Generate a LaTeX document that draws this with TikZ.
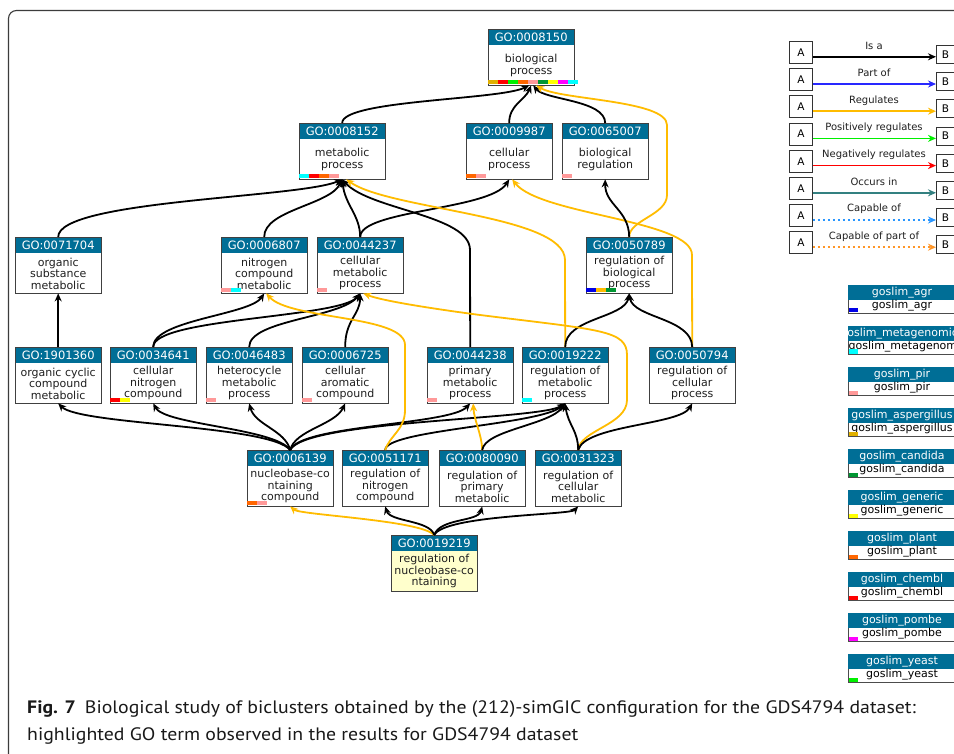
\documentclass[tikz,border=0pt]{standalone}
\usepackage{fontspec}
\setmainfont{DejaVu Sans}
\newfontfamily\capfont[FakeStretch=1.1]{PT Sans}
\usetikzlibrary{arrows.meta,calc}
\definecolor{headblue}{RGB}{0,110,150}
\definecolor{regy}{RGB}{255,188,0}
\definecolor{cgold}{RGB}{224,176,0}
\definecolor{cred}{RGB}{255,0,0}
\definecolor{cgreen}{RGB}{0,240,0}
\definecolor{corange}{RGB}{255,102,0}
\definecolor{cpink}{RGB}{255,153,153}
\definecolor{cdgreen}{RGB}{0,150,50}
\definecolor{cyellow}{RGB}{255,255,0}
\definecolor{cmag}{RGB}{255,0,255}
\definecolor{ccyan}{RGB}{0,255,255}
\definecolor{cblue}{RGB}{0,0,230}
\definecolor{hilite}{RGB}{255,255,204}
\definecolor{framec}{RGB}{60,60,60}
\definecolor{occurs}{RGB}{51,128,128}
\definecolor{capblue}{RGB}{40,150,255}
\definecolor{caporange}{RGB}{255,150,40}
\definecolor{partblue}{RGB}{40,40,255}
\tikzset{
  gobox/.style={rectangle,minimum width=86pt,minimum height=56pt,inner sep=0pt,draw=none},
  gohead/.style={rectangle,fill=headblue,text=white,minimum width=86pt,minimum height=16pt,inner sep=0pt,font=\fontsize{11.5}{12}\selectfont},
  gotext/.style={align=center,inner sep=0pt,text=black!88,font=\fontsize{11}{11.5}\selectfont},
  boxline/.style={draw=black!75,line width=0.9pt},
  isa/.style={draw=black,line width=1.8pt,-{Stealth[length=8pt,width=7pt]}},
  reg/.style={draw=regy,line width=1.8pt,-{Stealth[length=8pt,width=7pt]}},
  lgbox/.style={rectangle,draw=black!80,line width=0.8pt,fill=white,minimum width=23pt,minimum height=22pt,inner sep=0pt,font=\fontsize{10.5}{11}\selectfont},
  lgboxb/.style={rectangle,draw=black!80,line width=0.8pt,fill=white,minimum width=24pt,minimum height=18pt,inner sep=0pt,font=\fontsize{10.5}{11}\selectfont},
  lglabel/.style={inner sep=0pt,font=\fontsize{10}{11}\selectfont,text=black!88},
  lgline/.style={line width=1.6pt,-{Stealth[length=8pt,width=7pt]}},
  lk0/.style={lgline,draw=black},
  lk1/.style={lgline,draw=partblue},
  lk2/.style={lgline,draw=regy},
  lk3/.style={lgline,draw=cgreen},
  lk4/.style={lgline,draw=cred},
  lk5/.style={lgline,draw=occurs},
  lk6/.style={lgline,draw=capblue,dash pattern=on 2.5pt off 2.5pt},
  lk7/.style={lgline,draw=caporange,dash pattern=on 2.5pt off 2.5pt},
  gshead/.style={inner sep=0pt,text=white,font=\fontsize{11}{12}\selectfont},
  gsbody/.style={inner sep=0pt,text=black,font=\fontsize{11}{12}\selectfont},
}
\newcommand{\gonode}[6][white]{%
  \node[gobox,fill=#1,anchor=north west] (#2) at (#3,#4) {};
  \node[gohead,anchor=north] (#2h) at (#2.north) {#5};
  \node[gotext] (#2t) at ($(#2.south)!0.5!(#2h.south)$) {#6};
  \draw[boxline] (#2.north west) rectangle (#2.south east);
}
\newcommand{\gobars}[2]{%
  \foreach \c [count=\i from 0] in {#2} {\fill[\c] ($(#1.south west)+(\i*10,-5)$) rectangle ++(10,4);}
}
\begin{document}
\begin{tikzpicture}[x=1pt,y=-1pt]
\useasboundingbox (0,0) rectangle (954,754);
\fill[white] (0,0) rectangle (954,754);
\draw[framec,line width=1.1pt,rounded corners=8pt] (8.5,10.5) rectangle (1000,800);

% ---------- GO nodes ----------
\gonode{n8150}{488}{29}{GO:0008150}{biological\\process}
\gonode{n8152}{299}{123}{GO:0008152}{metabolic\\process}
\gonode{n9987}{466}{123}{GO:0009987}{cellular\\process}
\gonode{n65007}{562}{123}{GO:0065007}{biological\\regulation}
\gonode{n71704}{15}{237}{GO:0071704}{organic\\substance\\metabolic}
\gonode{n6807}{221}{237}{GO:0006807}{nitrogen\\compound\\metabolic}
\gonode{n44237}{317}{237}{GO:0044237}{cellular\\metabolic\\process}
\gonode{n50789}{586}{237}{GO:0050789}{regulation of\\biological\\process}
\gonode{n1901360}{15}{347}{GO:1901360}{organic cyclic\\compound\\metabolic}
\gonode{n34641}{110}{347}{GO:0034641}{cellular\\nitrogen\\compound}
\gonode{n46483}{206}{347}{GO:0046483}{heterocycle\\metabolic\\process}
\gonode{n6725}{302}{347}{GO:0006725}{cellular\\aromatic\\compound}
\gonode{n44238}{427}{347}{GO:0044238}{primary\\metabolic\\process}
\gonode{n19222}{522}{347}{GO:0019222}{regulation of\\metabolic\\process}
\gonode{n50794}{649}{347}{GO:0050794}{regulation of\\cellular\\process}
\gonode{n6139}{247}{450}{GO:0006139}{nucleobase-co\\ntaining\\compound}
\gonode{n51171}{342}{450}{GO:0051171}{regulation of\\nitrogen\\compound}
\gonode{n80090}{439}{450}{GO:0080090}{regulation of\\primary\\metabolic}
\gonode{n31323}{535}{450}{GO:0031323}{regulation of\\cellular\\metabolic}
\gonode[hilite]{n19219}{391}{535}{GO:0019219}{regulation of\\nucleobase-co\\ntaining}

\gobars{n8150}{cgold,cred,cgreen,corange,cpink,cdgreen,cyellow,cmag,ccyan}
\gobars{n8152}{ccyan,cred,corange,cpink}
\gobars{n9987}{corange,cpink}
\gobars{n65007}{cpink}
\gobars{n6807}{cpink,ccyan}
\gobars{n44237}{cpink}
\gobars{n50789}{cblue,regy,cdgreen}
\gobars{n34641}{cred,cyellow}
\gobars{n46483}{cpink}
\gobars{n6725}{cpink}
\gobars{n44238}{cpink}
\gobars{n19222}{ccyan}
\gobars{n6139}{corange,cpink}

% ---------- edges ----------
\draw[isa] (n8152.north) .. controls (342,100) and (500,100) .. ([xshift=-2pt]n8150.south);
\draw[isa] (n9987.north) .. controls (509,105) and (525,100) .. (n8150.south);
\draw[isa] (n65007.north) .. controls (605,100) and (545,100) .. ([xshift=2pt]n8150.south);
\draw[reg] (n50789.north) .. controls (629,220) and (667,215) .. (667,195) -- (667,125) .. controls (667,100) and (560,100) .. ([xshift=5pt]n8150.south);

\draw[isa] (n71704.north) .. controls (58,200) and (300,198) .. (n8152.south);
\draw[isa] (n6807.north) .. controls (264,210) and (330,205) .. (n8152.south);
\draw[isa] (n44237.north) .. controls (360,215) and (345,205) .. (n8152.south);
\draw[isa] (n44238.north) -- (470,250) .. controls (470,215) and (370,210) .. (n8152.south);
\draw[isa] (n44237.north) .. controls (360,210) and (490,210) .. (n9987.south);
\draw[reg] (n19222.north) -- (565,260) .. controls (565,215) and (390,210) .. ([xshift=4pt]n8152.south);
\draw[reg] (n50794.north) -- (692,255) .. controls (692,220) and (540,215) .. ([xshift=3pt]n9987.south);
\draw[isa] (n50789.north) .. controls (629,210) and (605,205) .. (n65007.south);

\draw[isa] (n1901360.north) -- (n71704.south);
\draw[isa] (n34641.north) .. controls (153,320) and (250,315) .. (n6807.south);
\draw[isa] (n34641.north) .. controls (153,318) and (340,318) .. (n44237.south);
\draw[isa] (n46483.north) .. controls (249,320) and (340,318) .. (n44237.south);
\draw[isa] (n6725.north) .. controls (345,320) and (360,315) .. (n44237.south);
\draw[isa] (n19222.north) .. controls (565,318) and (625,318) .. (n50789.south);
\draw[isa] (n50794.north) .. controls (692,318) and (633,318) .. (n50789.south);

\draw[isa] (n6139.north) .. controls (270,425) and (80,425) .. (n1901360.south);
\draw[isa] (n6139.north) .. controls (275,428) and (165,425) .. (n34641.south);
\draw[isa] (n6139.north) .. controls (285,430) and (255,425) .. (n46483.south);
\draw[isa] (n6139.north) .. controls (295,430) and (335,425) .. (n6725.south);
\draw[isa] (n6139.north) .. controls (300,425) and (450,425) .. (n44238.south);
\draw[isa] (n6139.north) .. controls (305,420) and (540,420) .. (n19222.south);
\draw[isa] (n51171.north) .. controls (385,430) and (540,425) .. (n19222.south);
\draw[reg] (n51171.north) .. controls (390,435) and (405,430) .. (405,410) -- (405,345) .. controls (405,315) and (290,320) .. ([xshift=2pt]n6807.south);
\draw[reg] (n80090.north) .. controls (482,435) and (474,420) .. ([xshift=3pt]n44238.south);
\draw[isa] (n80090.north) .. controls (485,430) and (550,425) .. (n19222.south);
\draw[reg] (n31323.north) .. controls (580,430) and (627,425) .. (627,400) -- (627,355) .. controls (627,330) and (600,330) .. (480,315) .. controls (420,307) and (380,300) .. ([xshift=3pt]n44237.south);
\draw[isa] (n31323.north) .. controls (578,430) and (568,425) .. (n19222.south);
\draw[isa] (n31323.north) .. controls (585,425) and (680,425) .. (n50794.south);

\draw[reg] (n19219.north) .. controls (420,520) and (300,515) .. (n6139.south);
\draw[isa] (n19219.north) .. controls (430,520) and (390,522) .. (n51171.south);
\draw[isa] (n19219.north) .. controls (440,518) and (478,522) .. (n80090.south);
\draw[isa] (n19219.north) .. controls (445,515) and (570,515) .. (n31323.south);

% ---------- relation legend ----------
\foreach \lbl/\sty [count=\i from 0] in {{Is a}/lk0,{Part of}/lk1,{Regulates}/lk2,{Positively regulates}/lk3,{Negatively regulates}/lk4,{Occurs in}/lk5,{Capable of}/lk6,{Capable of part of}/lk7} {
  \pgfmathsetmacro\ty{41+27.2*\i}
  \node[lgbox,anchor=north west] (la\i) at (789,\ty) {A};
  \node[lgboxb,anchor=north west] (lb\i) at (936,\ty+4) {\hspace*{-6pt}B};
  \coordinate (ls\i) at ([yshift=7pt]la\i.south east);
  \draw[\sty] (ls\i) -- (ls\i -| lb\i.west);
  \node[lglabel] (ll\i) at (874,\ty+5) {\lbl};
}

% ---------- goslim legend ----------
\foreach \nm/\cl/\bx/\ba [count=\i from 0] in {goslim\_agr/cblue/902/center,goslim\_metagenomics/ccyan/848.5/west,goslim\_pir/cpink/902/center,goslim\_aspergillus/cgold/902/center,goslim\_candida/cdgreen/902/center,goslim\_generic/cyellow/902/center,goslim\_plant/corange/902/center,goslim\_chembl/cred/902/center,goslim\_pombe/cmag/902/center,goslim\_yeast/cgreen/902/center} {
  \pgfmathsetmacro\gy{285+41*\i}
  \begin{scope}
    \clip (848,\gy) rectangle (970,\gy+28);
    \fill[headblue] (848,\gy) rectangle (970,\gy+15);
    \node[gshead] (gh\i) at (902,\gy+7.5) {\nm};
    \node[gsbody,anchor=\ba] (gb\i) at (\bx,\gy+21) {\nm};
    \fill[\cl] (848,\gy+23.5) rectangle (858,\gy+27.5);
  \end{scope}
  \draw[draw=black!70,line width=0.8pt] (848,\gy+15) -- (848,\gy+28) -- (970,\gy+28);
}

% ---------- caption ----------
\node[anchor=west,inner sep=0pt,text=black!90] (cap1) at (27,709) {\capfont\fontsize{18}{20}\selectfont\textbf{Fig. 7}\enspace Biological study of biclusters obtained by the (212)-simGIC configuration for the GDS4794 dataset:};
\node[anchor=west,inner sep=0pt,text=black!90] (cap2) at (27,736) {\capfont\fontsize{18}{20}\selectfont highlighted GO term observed in the results for GDS4794 dataset};
\end{tikzpicture}
\end{document}
